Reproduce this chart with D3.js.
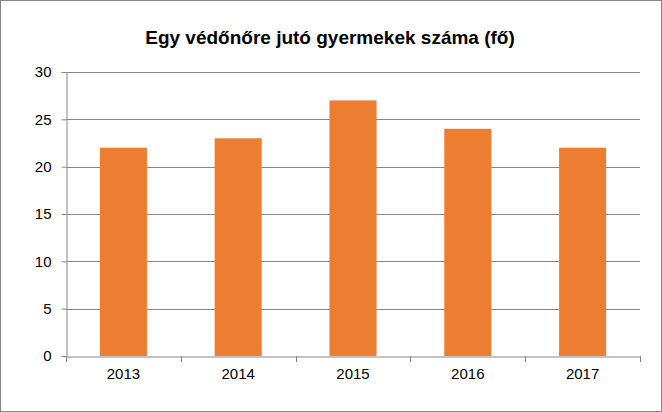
<!DOCTYPE html>
<html><head><meta charset="utf-8">
<script src="https://cdn.jsdelivr.net/npm/d3@7"></script>
<style>body{margin:0;background:#fff}svg{display:block}</style>
</head><body>
<script>
const years = ["2013", "2014", "2015", "2016", "2017"];
const values = [22, 23, 27, 24, 22];
const yTicks = [0, 5, 10, 15, 20, 25, 30];
const title = "Egy védőnőre jutó gyermekek száma (fő)";

const W = 662, H = 412;
const plotLeft = 66, plotRight = 640, plotTop = 72, plotBottom = 356;
const font = "'Liberation Sans', Arial, sans-serif";

const svg = d3.select("body").append("svg").attr("width", W).attr("height", H);
svg.append("rect").attr("x", 0.5).attr("y", 0.5).attr("width", W - 1).attr("height", H - 1)
  .attr("fill", "#fff").attr("stroke", "#868686");

svg.append("text").attr("x", 330).attr("y", 44).attr("text-anchor", "middle")
  .attr("font-family", font).attr("font-weight", "bold").attr("font-size", 19)
  .text(title);

const x = d3.scaleBand().domain(years).range([plotLeft, plotRight]).paddingInner(0.59).paddingOuter(0.295);
const y = d3.scaleLinear().domain([0, 30]).range([plotBottom, plotTop]);

// grid
svg.append("g").selectAll("line").data(yTicks.filter(d => d > 0)).join("line")
  .attr("x1", plotLeft).attr("x2", plotRight)
  .attr("y1", d => Math.round(y(d)) + 0.5).attr("y2", d => Math.round(y(d)) + 0.5)
  .attr("stroke", "#868686");

// y axis
const ya = svg.append("g").attr("transform", `translate(${plotLeft + 0.5},0)`)
  .call(d3.axisLeft(y).tickValues(yTicks).tickSize(5).tickPadding(10));
ya.select(".domain").attr("stroke", "#868686");
ya.selectAll("line").attr("stroke", "#868686");
ya.selectAll("text").attr("font-family", font).attr("font-size", 15).attr("fill", "#000");

// bars
svg.append("g").selectAll("rect").data(values).join("rect")
  .attr("x", (d, i) => x(years[i])).attr("width", x.bandwidth())
  .attr("y", d => y(d)).attr("height", d => y(0) - y(d))
  .attr("fill", "#ED7D31");

// x axis
const xa = svg.append("g").attr("transform", `translate(0,${Math.round(plotBottom) + 0.5})`)
  .call(d3.axisBottom(x).tickSize(0).tickPadding(12));
xa.select(".domain").attr("stroke", "#868686");
xa.selectAll("text").attr("font-family", font).attr("font-size", 15).attr("fill", "#000");
const step = (plotRight - plotLeft) / years.length;
svg.append("g").selectAll("line").data(d3.range(years.length + 1)).join("line")
  .attr("x1", i => Math.round(plotLeft + i * step) + 0.5).attr("x2", i => Math.round(plotLeft + i * step) + 0.5)
  .attr("y1", plotBottom).attr("y2", plotBottom + 6).attr("stroke", "#868686");
</script>
</body></html>
